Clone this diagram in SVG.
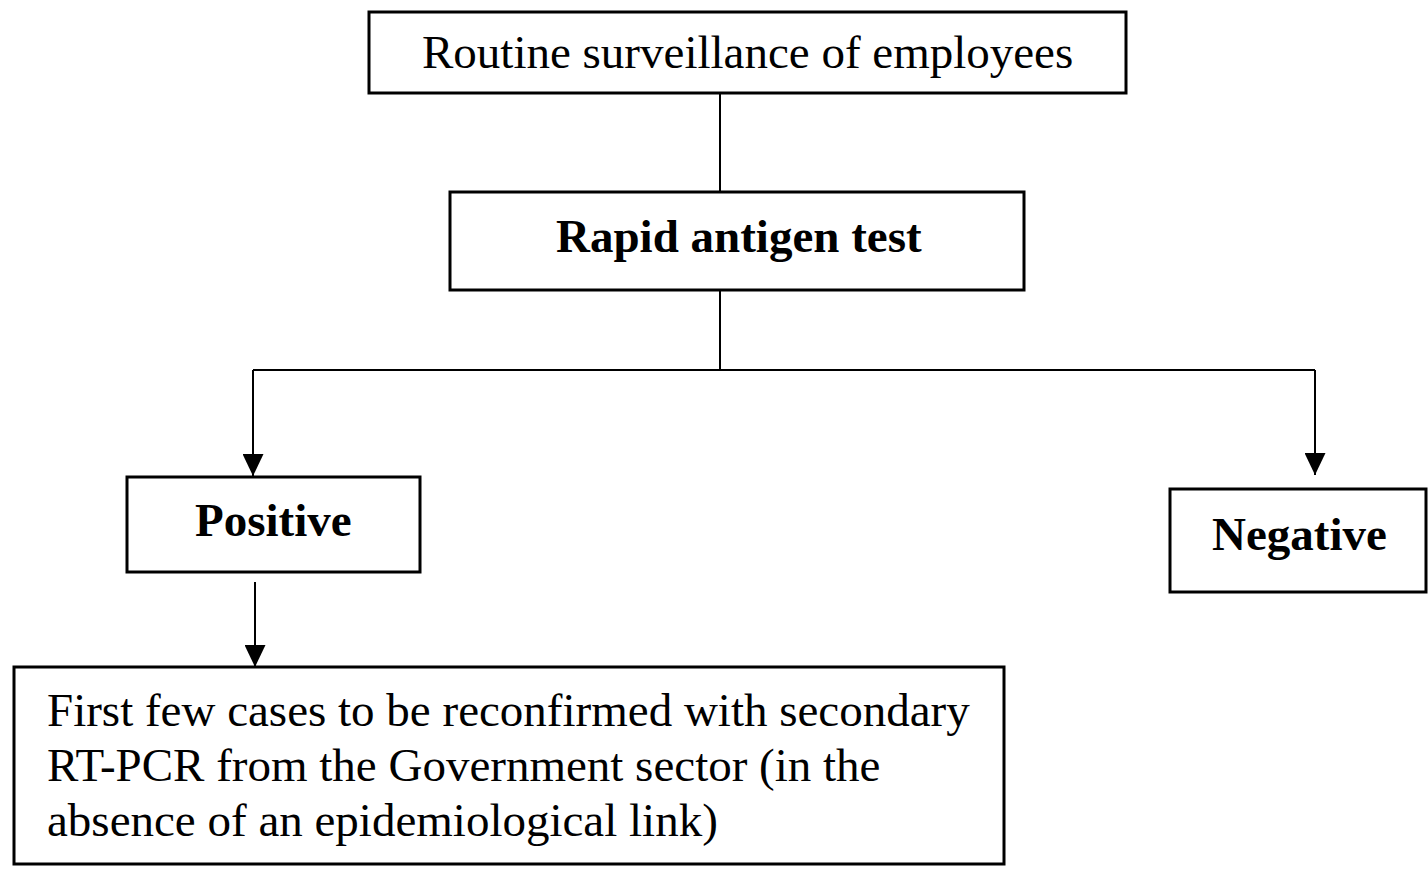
<svg xmlns="http://www.w3.org/2000/svg" width="1428" height="878" viewBox="0 0 1428 878">
<style>
.box{fill:#fff;stroke:#000;stroke-width:3}
.t{font-family:"Liberation Serif","Times New Roman",serif;font-size:47px;fill:#000}
.b{font-weight:bold}
.c{stroke:#000;stroke-width:2;fill:none}
</style>
<defs>
<marker id="ah" markerWidth="22" markerHeight="21" refX="22" refY="10.5" orient="auto" markerUnits="userSpaceOnUse" viewBox="0 0 22 21">
<path d="M0,0 L22,10.5 L0,21 Z" fill="#000"/>
</marker>
</defs>
<rect width="1428" height="878" fill="#fff"/>
<g id="connectors">
<line class="c" x1="720" y1="93" x2="720" y2="192"/>
<line class="c" x1="720" y1="290" x2="720" y2="370"/>
<line class="c" x1="253" y1="370" x2="1315" y2="370"/>
<path class="c" d="M253,370 V476" marker-end="url(#ah)"/>
<path class="c" d="M1315,370 V475" marker-end="url(#ah)"/>
<path class="c" d="M255,582 V667" marker-end="url(#ah)"/>
</g>
<g id="n1">
<rect class="box" x="369" y="12" width="757" height="81"/>
<text class="t" x="422" y="68" font-size="48">Routine surveillance of employees</text>
</g>
<g id="n2">
<rect class="box" x="450" y="192" width="574" height="98"/>
<text class="t b" x="556" y="252">Rapid antigen test</text>
</g>
<g id="n3">
<rect class="box" x="127" y="477" width="293" height="95"/>
<text class="t b" x="195" y="536">Positive</text>
</g>
<g id="n4">
<rect class="box" x="1170" y="489" width="256" height="103"/>
<text class="t b" x="1212" y="550">Negative</text>
</g>
<g id="n5">
<rect class="box" x="14" y="667" width="990" height="197"/>
<text class="t" x="47" y="726">First few cases to be reconfirmed with secondary</text>
<text class="t" x="47" y="781">RT-PCR from the Government sector (in the</text>
<text class="t" x="47" y="836">absence of an epidemiological link)</text>
</g>
</svg>
